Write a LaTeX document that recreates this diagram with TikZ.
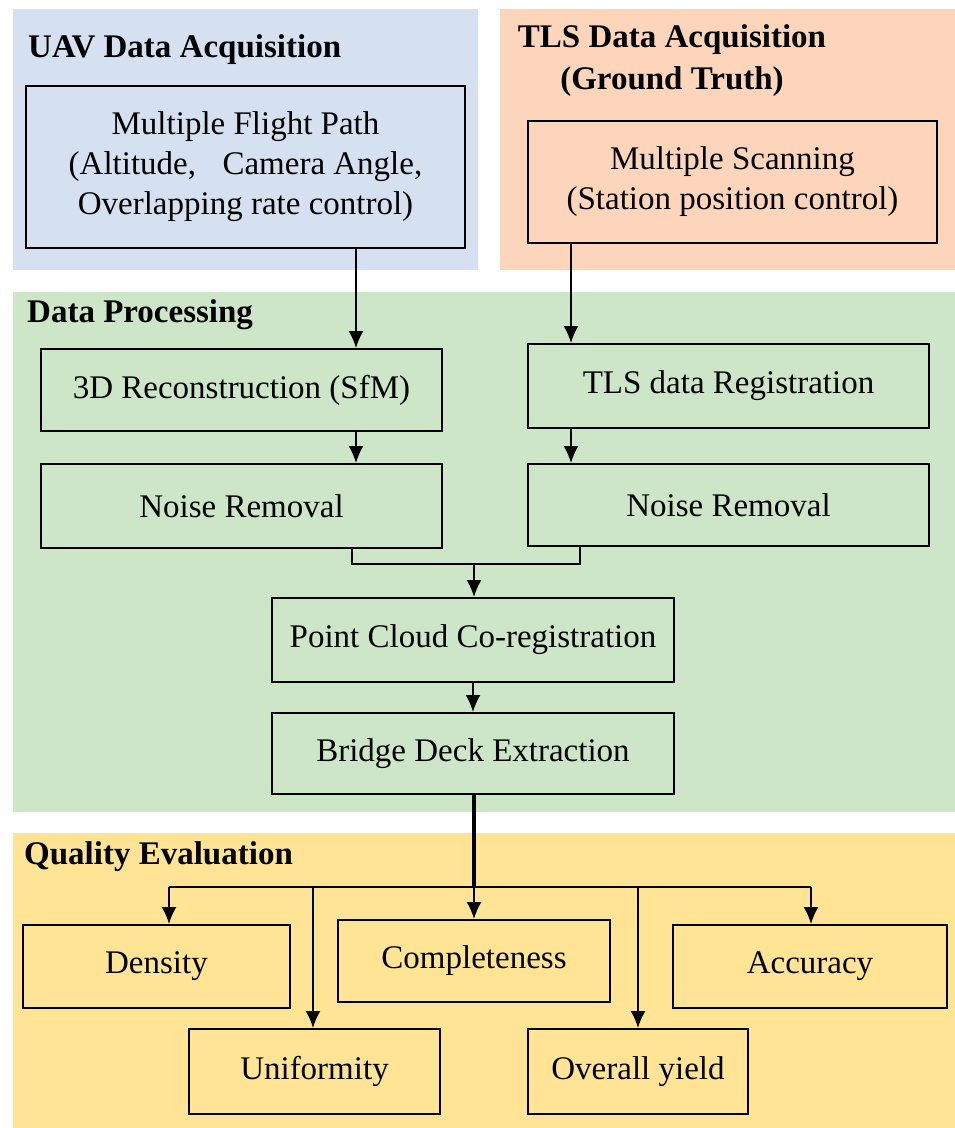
\documentclass[tikz,border=0pt]{standalone}
\usepackage{fontspec}
\setmainfont{Liberation Serif}
\usetikzlibrary{arrows.meta}

\definecolor{uavblue}{RGB}{213,225,241}
\definecolor{tlspeach}{RGB}{252,213,186}
\definecolor{procgreen}{RGB}{205,230,199}
\definecolor{qualyellow}{RGB}{255,228,150}

\begin{document}
\begin{tikzpicture}[x=1pt,y=-1pt,
        every node/.style={font=\fontsize{33}{40}\selectfont},
        procbox/.style={draw,line width=2pt,inner sep=0pt,align=center},
        paneltitle/.style={font=\fontsize{33}{42}\selectfont\bfseries,inner sep=0pt},
        flow/.style={line width=1.8pt,-{Latex[length=17pt,width=15pt]}}]
        \useasboundingbox (0,0) rectangle (955,1128);
        % Panels
        \fill[uavblue] (13,9) rectangle (478,270);
        \fill[tlspeach] (500,9) rectangle (955,270);
        \fill[procgreen] (13,292) rectangle (955,812);
        \fill[qualyellow] (13,833) rectangle (955,1128);
        % Panel titles
        \node[paneltitle,anchor=west] (tuav) at (28,50) {UAV Data Acquisition};
        \node[paneltitle,align=center] (ttls) at (672,61) {TLS Data Acquisition\\(Ground Truth)};
        \node[paneltitle,anchor=west] (tproc) at (27,315) {Data Processing};
        \node[paneltitle,anchor=west] (tqual) at (24,857) {Quality Evaluation};
        % Acquisition boxes
        \node[procbox,minimum width=439pt,minimum height=162pt] (flight) at (245.5,167) {Multiple Flight Path\\(Altitude,\hspace{0.8em}Camera Angle,\\Overlapping rate control)};
        \node[procbox,minimum width=409pt,minimum height=122pt] (scan) at (732.5,182) {Multiple Scanning\\(Station position control)};
        % Processing boxes
        \node[procbox,minimum width=401pt,minimum height=82pt] (recon) at (241.5,390) {3D Reconstruction (SfM)};
        \node[procbox,minimum width=401pt,minimum height=84pt] (reg) at (728.5,386) {TLS data Registration};
        \node[procbox,minimum width=401pt,minimum height=84pt] (noiseL) at (241.5,506) {Noise Removal};
        \node[procbox,minimum width=401pt,minimum height=82pt] (noiseR) at (728.5,505) {Noise Removal};
        \node[procbox,minimum width=402pt,minimum height=84pt] (coreg) at (473,640) {Point Cloud Co-registration};
        \node[procbox,minimum width=402pt,minimum height=81pt] (bridge) at (473,753.5) {Bridge Deck Extraction};
        % Evaluation boxes
        \node[procbox,minimum width=267pt,minimum height=83pt] (density) at (156.5,966.5) {Density};
        \node[procbox,minimum width=272pt,minimum height=82pt] (complete) at (474,961) {Completeness};
        \node[procbox,minimum width=274pt,minimum height=83pt] (accuracy) at (810,966.5) {Accuracy};
        \node[procbox,minimum width=251pt,minimum height=85pt] (uniform) at (314.5,1071.5) {Uniformity};
        \node[procbox,minimum width=220pt,minimum height=85pt] (yield) at (638,1071.5) {Overall yield};
        % Two processing chains
        \coordinate (cl) at (356,0);
        \coordinate (cr) at (571,0);
        \draw[flow] (flight.south -| cl) -- (recon.north -| cl);
        \draw[flow] (scan.south -| cr) -- (reg.north -| cr);
        \draw[flow] (recon.south -| cl) -- (noiseL.north -| cl);
        \draw[flow] (reg.south -| cr) -- (noiseR.north -| cr);
        % Merge into co-registration
        \coordinate (join) at (474,564);
        \coordinate (ml) at (352,0);
        \coordinate (mr) at (580,0);
        \draw[line width=1.8pt] (noiseL.south -| ml) |- (join) -| (noiseR.south -| mr);
        \draw[flow] (join) -- (coreg.north -| join);
        \draw[flow] (coreg.south) -- (bridge.north);
        % Trunk and branches to the evaluation boxes
        \coordinate (hub) at (474,887);
        \draw[line width=3.5pt] (bridge.south -| hub) -- (hub);
        \foreach \c/\x in {qd/169,qu/313,qc/474,qy/638,qa/811} {\coordinate (\c) at (\x,887);}
        \draw[line width=1.8pt] (qd) -- (qa);
        \foreach \c/\n in {qd/density,qu/uniform,qc/complete,qy/yield,qa/accuracy} {\draw[flow] (\c) -- (\n.north -| \c);}
\end{tikzpicture}
\end{document}
